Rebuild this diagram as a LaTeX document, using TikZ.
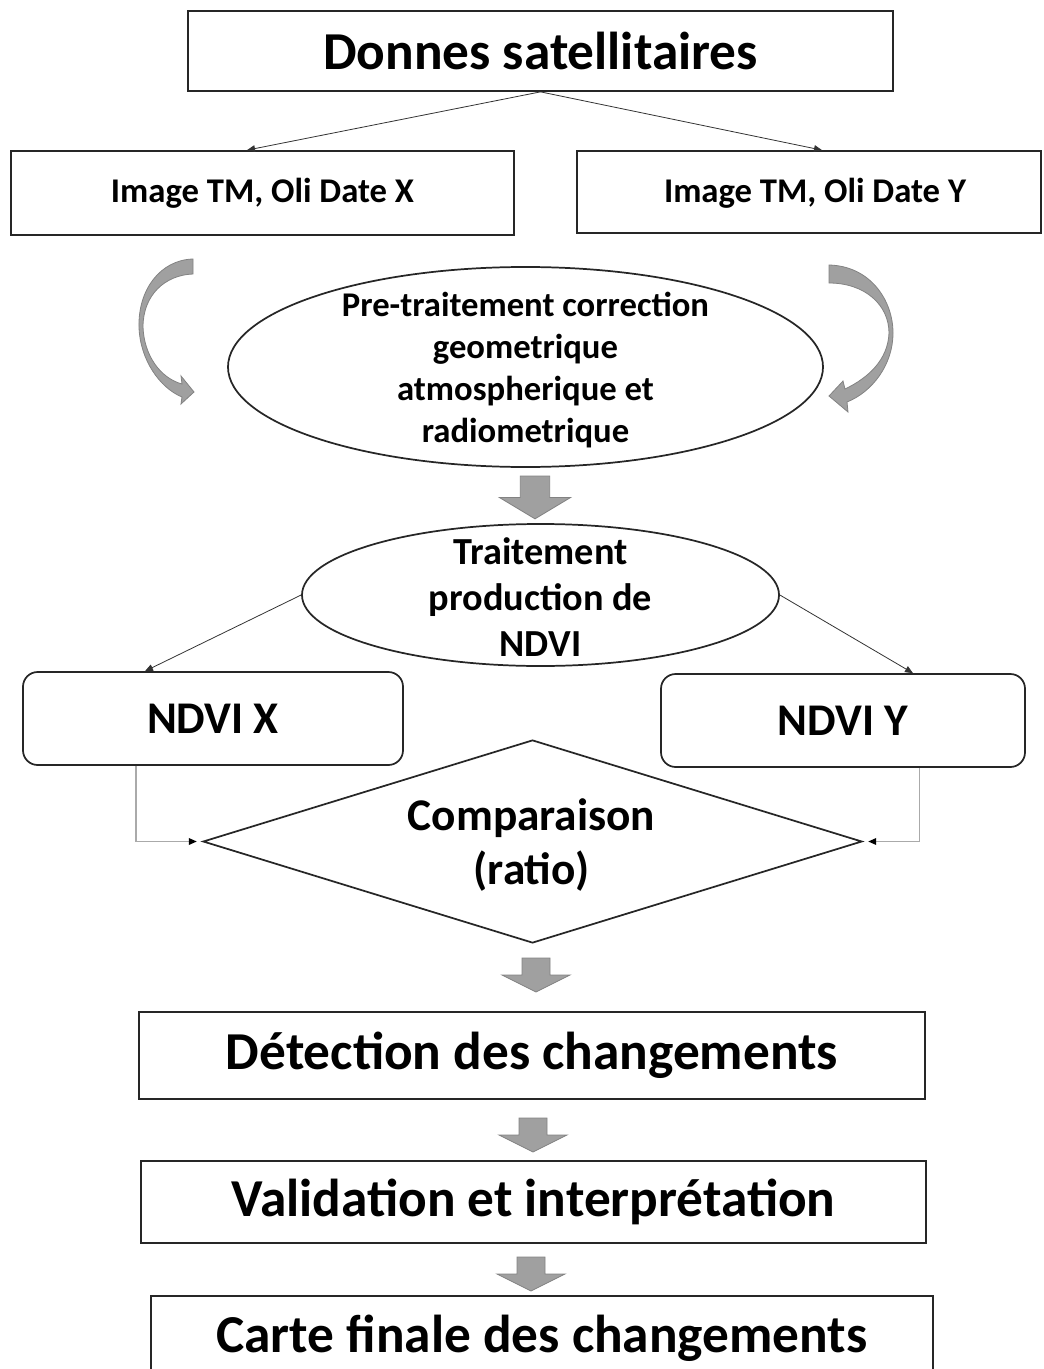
\documentclass[tikz,border=0pt]{standalone}
\usepackage{fontspec}
\setmainfont{Carlito}
\usetikzlibrary{shapes.geometric,arrows.meta,calc}
\definecolor{arrowgray}{RGB}{160,160,160}
\definecolor{arrowedge}{RGB}{130,130,130}
\definecolor{linegray}{RGB}{170,170,170}
\begin{document}
\begin{tikzpicture}[x=0.75pt,y=-0.75pt,
  box/.style={draw=black!85,line width=1.3pt,inner sep=0pt,align=center},
  txt/.style={inner sep=0pt,align=center},
  bigtxt/.style={font=\fontsize{40}{48}\selectfont\bfseries},
  midtxt/.style={font=\fontsize{26}{31.5}\selectfont\bfseries},
  thin/.style={draw=black!80,line width=0.6pt,-{Triangle[length=6pt,width=5pt]}},
  conn/.style={draw=linegray,line width=1pt,-{Triangle[length=6pt,width=5pt,color=black]}},
  blockfill/.style={fill=arrowgray,draw=arrowedge,line width=0.6pt},
  garrow/.pic={\path[blockfill] (-14,0) -- (14,0) -- (14,17) -- (34,17) -- (0,34) -- (-34,17) -- (-14,17) -- cycle;}
]
\path[use as bounding box,clip] (0,0) rectangle (1043,1369);

% top box
\node[box,bigtxt,minimum width=528.75pt,minimum height=60pt] (top) at (540.5,51) {Donnes satellitaires};
% image boxes
\node[box,midtxt,minimum width=377.25pt,minimum height=63pt] (imgx) at (262.5,193) {Image TM, Oli Date X};
\node[box,minimum width=348pt,minimum height=61.5pt] (imgy) at (809,192) {};
\node[txt,midtxt] (imgytxt) at (815,193) {Image TM, Oli Date Y};
\draw[thin] (top.south) -- ([xshift=-11.6pt]imgx.north);
\draw[thin] (top.south) -- ([xshift=9.75pt]imgy.north);

% curved gray arrows
\path[blockfill] (193,259) .. controls (160,260) and (138,290) .. (139,327)
  .. controls (140,360) and (160,388) .. (182,397)
  -- (181,404) -- (194,392) -- (181,376) -- (182,384)
  .. controls (160,378) and (144,355) .. (143,327)
  .. controls (143,295) and (165,275) .. (193,274) -- cycle;
\path[blockfill] (829,265) .. controls (870,266) and (893,300) .. (893,333)
  .. controls (893,365) and (872,392) .. (847,402)
  -- (848,412) -- (829,396) -- (843,381) -- (845,389)
  .. controls (868,378) and (888,360) .. (889,333)
  .. controls (889,305) and (865,283) .. (829,283) -- cycle;

% ellipse 1
\node[box,ellipse,minimum width=446.25pt,minimum height=150pt] (pre) at (525.5,367) {};
\node[txt,midtxt] (pretxt) at (525.5,370)
  {Pre-traitement correction\\geometrique\\atmospherique et\\radiometrique};

\pic[xscale=1.05,yscale=1.26] at (535,476) {garrow};

% ellipse 2
\node[box,ellipse,minimum width=357.75pt,minimum height=106.5pt] (trt) at (540.5,595) {};
\node[txt,font=\fontsize{28.7}{34.5}\selectfont\bfseries] (trttxt) at (540.5,597)
  {Traitement\\production de\\NDVI};

% NDVI boxes
\node[box,rounded corners=11pt,font=\fontsize{34}{41}\selectfont\bfseries,minimum width=285pt,minimum height=69.75pt] (ndvix) at (213,718.5) {NDVI X};
\node[box,rounded corners=11pt,font=\fontsize{34}{41}\selectfont\bfseries,minimum width=273pt,minimum height=69.75pt] (ndviy) at (843,720.5) {NDVI Y};
\draw[thin] (trt.west) -- ([xshift=-51pt]ndvix.north);
\draw[thin] (trt.east) -- ([xshift=52.5pt]ndviy.north);

% diamond
\node[box,diamond,aspect=3.25,minimum width=494.25pt,minimum height=152.25pt] (cmp) at (532.5,841.5) {};
\node[txt,font=\fontsize{34}{41}\selectfont\bfseries] (cmptxt) at (531.5,845) {Comparaison\\(ratio)};
\draw[conn,shorten >=4pt] ([xshift=85.5pt]ndvix.south west) |- (cmp.west);
\draw[conn,shorten >=4pt] ([xshift=-80pt]ndviy.south east) |- (cmp.east);

\pic at (536,958) {garrow};

% lower boxes
\node[box,bigtxt,minimum width=589.5pt,minimum height=65.25pt] (det) at (532,1055.5) {Détection des changements};
\pic at (533,1118) {garrow};
\node[box,bigtxt,minimum width=588.75pt,minimum height=61.5pt] (val) at (533.5,1202) {Validation et interprétation};
\pic at (531,1257) {garrow};
\node[box,bigtxt,minimum width=586.5pt,minimum height=63pt] (carte) at (542,1338) {Carte finale des changements};
\end{tikzpicture}
\end{document}
